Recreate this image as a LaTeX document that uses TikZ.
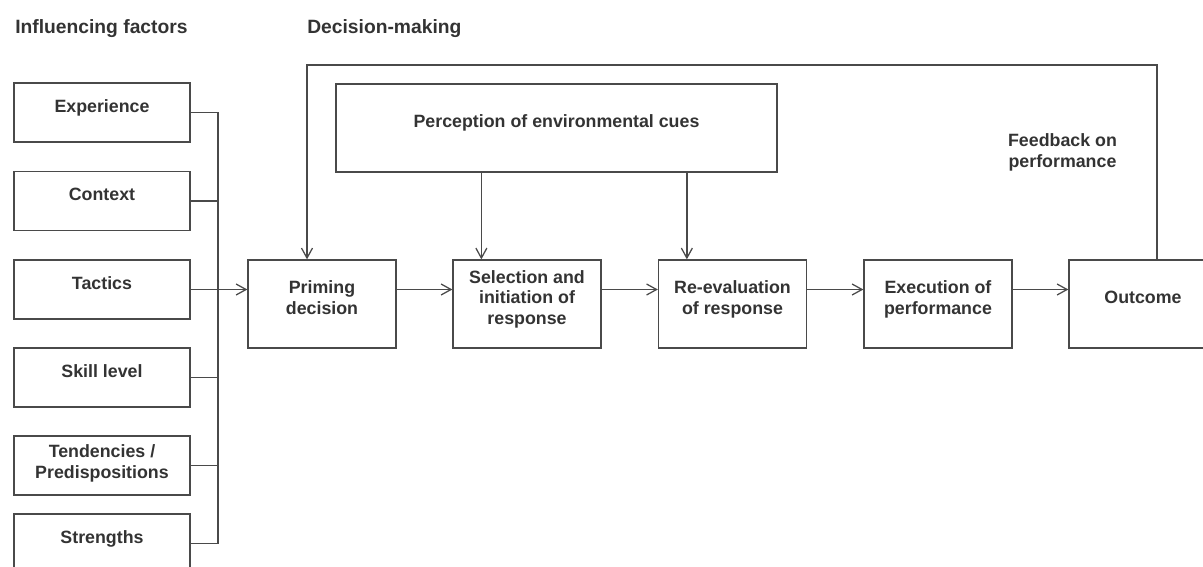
\documentclass[tikz,border=0pt]{standalone}
\usepackage{fontspec}
\setmainfont{Liberation Sans}
\usepackage{xcolor}
\usetikzlibrary{arrows.meta,positioning}
\definecolor{inkgray}{HTML}{333333}
\definecolor{rulegray}{HTML}{4A4A4A}

\begin{document}
\begin{tikzpicture}[
  x=0.25mm, y=-0.25mm,
  font=\fontsize{12.66pt}{14.9pt}\selectfont\bfseries,
  text=inkgray,
  factor/.style={rectangle, draw=rulegray, line width=0.9pt, minimum width=44mm, minimum height=14.75mm, align=center, text depth=3.25mm, inner sep=0pt},
  stage/.style={factor, minimum width=37mm, minimum height=22mm},
  cues/.style={stage, minimum width=110.25mm, line width=1.4pt},
  link/.style={draw=rulegray, line width=0.9pt},
  arr/.style={link, -{Straight Barb[length=2.5mm, width=2.75mm]}},
  heading/.style={anchor=base west, inner sep=0pt, font=\fontsize{13.7pt}{16pt}\selectfont\bfseries}
]
\useasboundingbox (0,0) rectangle (1203,567);
\clip (0,0) rectangle (1203,567);

% headings
\node[heading] (hinf) at (15,34) {Influencing factors};
\node[heading] (hdec) at (307,34) {Decision-making};

% influencing factors
\node[factor] (exp) at (102,112.5) {Experience};
\node[factor] (ctx) at (102,201) {Context};
\node[factor] (tac) at (102,289.5) {Tactics};
\node[factor] (skl) at (102,377.5) {Skill level};
\node[factor, text depth=1.75mm] (tnd) at (102,465.5) {Tendencies /\\Predispositions};
\node[factor] (str) at (102,543.5) {Strengths};

% decision-making stages
\node[stage] (prim) at (322,304) {Priming\\decision};
\node[stage] (sel) at (527,304) {Selection and\\initiation of\\response};
\node[stage] (reev) at (732.5,304) {Re-evaluation\\of response};
\node[stage] (exe) at (938,304) {Execution of\\performance};
\node[stage] (out) at (1143,304) {Outcome};
\node[cues] (perc) at (556.5,128) {Perception of environmental cues};
\node[align=center, inner sep=0pt] (fb) at (1062.5,152) {Feedback on\\performance};

% factors onto the bus
\coordinate (bus) at (218,0);
\foreach \f in {exp,ctx,skl,tnd,str}
  \draw[link] (\f.east) -- (\f.east -| bus);
\draw[link] (exp.east -| bus) -- (str.east -| bus);
\draw[arr] (tac.east) -- (tac.east -| prim.west);

% chain of stages
\foreach \a/\b in {prim/sel, sel/reev, reev/exe, exe/out}
  \draw[arr] (\a.east |- tac.east) -- (\b.west |- tac.east);

% cues
\foreach \s in {sel,reev} {
  \coordinate (cue-\s) at ([xshift=7.25mm]\s.north west);
  \draw[arr] (perc.south -| cue-\s) -- (cue-\s);
}

% feedback loop
\coordinate (fb-out) at ([xshift=3.5mm]out.north);
\coordinate (fb-in) at ([xshift=-3.75mm]prim.north);
\coordinate (fb-top) at (700,65);
\draw[arr] (fb-out) |- (fb-top) -| (fb-in);

\end{tikzpicture}
\end{document}
